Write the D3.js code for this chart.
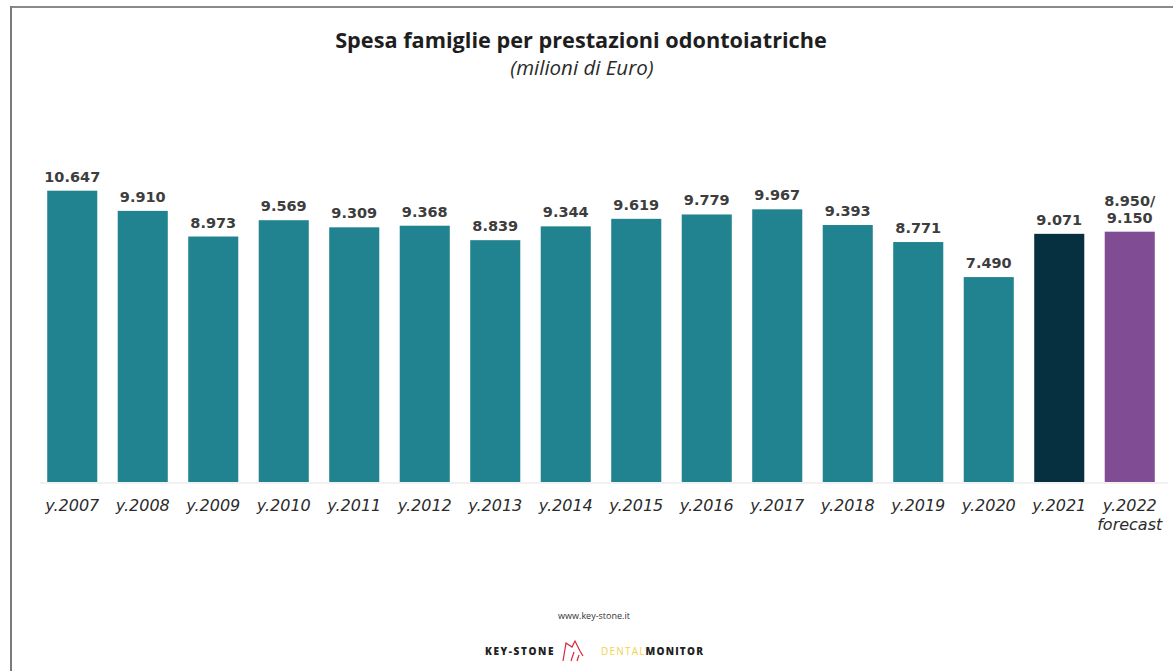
<html>
<script src='https://d3js.org/d3.v7.min.js'></script>
<style>
body {margin:0; background:white;}
text {font-family: 'Open Sans', sans-serif;}
.lbl {font-family: 'DejaVu Sans', sans-serif;}
</style>
<body onload='init()'>
<svg width=1173 height=671></svg>
<script>
// data
var years = ['y.2007','y.2008','y.2009','y.2010','y.2011','y.2012','y.2013','y.2014',
             'y.2015','y.2016','y.2017','y.2018','y.2019','y.2020','y.2021','y.2022'];
var spesa = [10.647, 9.910, 8.973, 9.569, 9.309, 9.368, 8.839, 9.344,
             9.619, 9.779, 9.967, 9.393, 8.771, 7.490, 9.071, 9.150];
var valueLabels = ['10.647','9.910','8.973','9.569','9.309','9.368','8.839','9.344',
                   '9.619','9.779','9.967','9.393','8.771','7.490','9.071','8.950/|9.150'];
var subLabels = {'y.2022': 'forecast'};

function init() {
var svg = d3.select('svg');

// frame lines (scanned page edge)
svg.append('line').attr('x1',11).attr('x2',1173).attr('y1',7).attr('y2',7)
   .attr('stroke','#8a8a8a').attr('stroke-width',2);
svg.append('line').attr('x1',11).attr('x2',11).attr('y1',6).attr('y2',671)
   .attr('stroke','#7a7a7a').attr('stroke-width',2);

var x = d3.scaleBand().domain(years).range([37,1165]).paddingInner(0.29).paddingOuter(0.145);
var y = d3.scaleLinear().domain([0,12]).range([482,153.7]);

function colour(d,i) {
  if (d == 'y.2021') return '#06303f';
  if (d == 'y.2022') return '#804d95';
  return '#21838f';
}

svg.append('line').attr('x1',40).attr('x2',1168).attr('y1',483).attr('y2',483)
   .attr('stroke','#ececec').attr('stroke-width',1.5);

svg.append('g').selectAll('rect')
  .data(years)
  .enter()
  .append('rect')
   .attr('x', function(d) {return x(d);})
   .attr('y', function(d,i) {return y(spesa[i]);})
   .attr('width', x.bandwidth())
   .attr('height', function(d,i) {return y(0) - y(spesa[i]);})
   .attr('fill', colour);

// value labels (one text per line)
years.forEach(function(d,i) {
  var parts = valueLabels[i].split('|');
  var cx = x(d) + x.bandwidth()/2;
  var base = y(spesa[i]) - 9 - (parts.length-1)*17;
  parts.forEach(function(p,j) {
    svg.append('text').attr('class','lbl')
       .attr('x',cx).attr('y',base + j*17)
       .attr('text-anchor','middle')
       .attr('font-size','14.5px')
       .attr('font-weight',700)
       .attr('fill','#3d3d3d')
       .text(p);
  });
});

// x labels
years.forEach(function(d) {
  var cx = x(d) + x.bandwidth()/2;
  var lines = [d];
  if (subLabels[d]) lines.push(subLabels[d]);
  lines.forEach(function(p,j) {
    svg.append('text').attr('class','lbl')
       .attr('x',cx).attr('y',511 + j*19)
       .attr('text-anchor','middle')
       .attr('font-size','16px')
       .attr('font-style','italic')
       .attr('fill','#2b2b2b')
       .text(p);
  });
});

// titles
svg.append('text').attr('x',581).attr('y',48).attr('text-anchor','middle')
   .attr('font-size','21.7px').attr('font-weight',700).attr('fill','#1e1e1e')
   .text('Spesa famiglie per prestazioni odontoiatriche');
svg.append('text').attr('x',582).attr('y',75).attr('text-anchor','middle')
   .attr('font-size','20.5px').attr('font-style','italic').attr('fill','#2b2b2b')
   .text('(milioni di Euro)');

// footer
svg.append('text').attr('x',594).attr('y',619).attr('text-anchor','middle')
   .attr('font-size','9px').attr('fill','#333')
   .text('www.key-stone.it');
svg.append('text').attr('x',485).attr('y',655)
   .attr('font-size','10px').attr('font-weight',800).attr('fill','#222')
   .attr('letter-spacing','1.6px')
   .text('KEY-STONE');
svg.append('path').attr('d','M563,661 L566,643 L572,647 L575,641 L580,651 L583,656 M571,661 L574,652 M577,661 L579,655')
   .attr('fill','none').attr('stroke','#d7263d').attr('stroke-width',1.2);
var dm = svg.append('text').attr('x',601).attr('y',655)
   .attr('font-size','10px').attr('letter-spacing','1.2px');
dm.append('tspan').attr('fill','#f2d24b').attr('font-weight',400).text('DENTAL');
dm.append('tspan').attr('fill','#222').attr('font-weight',800).text('MONITOR');
}
</script>
</body>
</html>
